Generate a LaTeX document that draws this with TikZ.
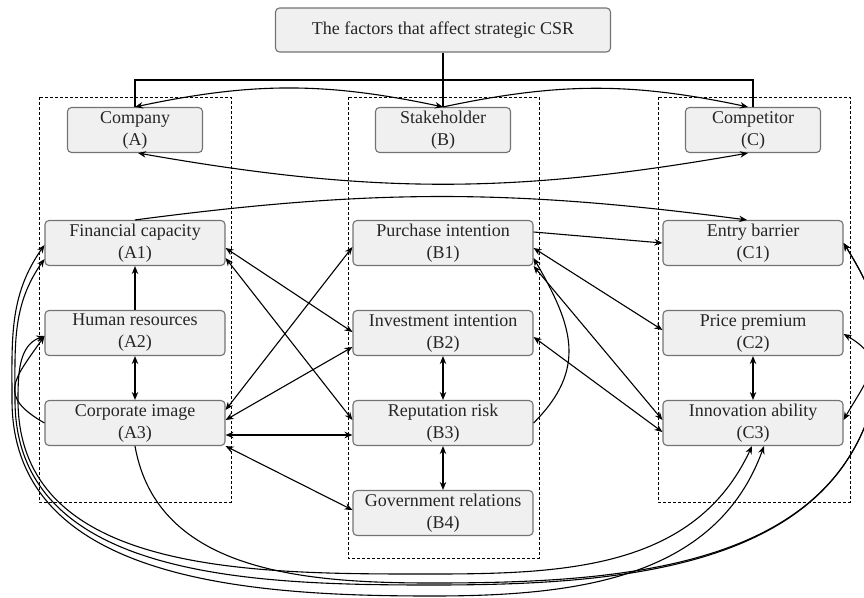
\documentclass[tikz,border=0pt]{standalone}
\usepackage{fontspec}
\setmainfont{Liberation Serif}
\usetikzlibrary{arrows.meta}

\begin{document}
\begin{tikzpicture}[x=1pt, y=1pt, >={Stealth[length=8pt,width=6.5pt]},
        every path/.style={line width=1.1pt},
        factor/.style={draw=black!55, fill=black!6, rounded corners=4pt,
            minimum width=180pt, minimum height=45pt, inner sep=0pt, align=center,
            font=\fontsize{18}{22}\selectfont, text=black!85},
        aspect/.style={factor, minimum width=135pt},
        group/.style={draw, line width=1pt, dash pattern=on 3pt off 2pt}]
    \useasboundingbox (0,0) rectangle (864,-597);

    \draw[group] (39,-97) rectangle (231,-502);
    \draw[group] (348,-97) rectangle (539,-558);
    \draw[group] (658,-97) rectangle (850,-502);

    \node[factor, minimum width=335pt, minimum height=44pt] (top) at (443,-30) {The factors that affect strategic CSR};
    \node[aspect] (A) at (135,-130) {Company\\(A)};
    \node[aspect] (B) at (443,-130) {Stakeholder\\(B)};
    \node[aspect] (C) at (753,-130) {Competitor\\(C)};

    \node[factor] (A1) at (135,-243) {Financial capacity\\(A1)};
    \node[factor] (A2) at (135,-333) {Human resources\\(A2)};
    \node[factor] (A3) at (135,-423) {Corporate image\\(A3)};
    \node[factor] (B1) at (443,-243) {Purchase intention\\(B1)};
    \node[factor] (B2) at (443,-333) {Investment intention\\(B2)};
    \node[factor] (B3) at (443,-423) {Reputation risk\\(B3)};
    \node[factor] (B4) at (443,-513) {Government relations\\(B4)};
    \node[factor] (C1) at (753,-243) {Entry barrier\\(C1)};
    \node[factor] (C2) at (753,-333) {Price premium\\(C2)};
    \node[factor] (C3) at (753,-423) {Innovation ability\\(C3)};

    \coordinate (bus) at (443,-80);
    \draw (top.south) -- (B.north);
    \draw (A.north) |- (bus) -| (C.north);
    \draw[<->] (A.north) to[bend left=12] (B.north);
    \draw[->] (B.north) to[bend left=12] ([xshift=-5pt]C.north);
    \draw[<->] ([xshift=3pt]A.south) to[bend right=10] ([xshift=-5pt]C.south);
    \draw[->] (A1.north) to[bend left=7.5] ([xshift=-6pt]C1.north);

    \draw[->] (A2) -- (A1);
    \draw[<->] (A2) -- (A3);
    \draw[<->] (B2) -- (B3);
    \draw[<->] (B3) -- (B4);
    \draw[<->] (C2) -- (C3);

    \draw[<->] ([yshift=-5pt]A1.east) -- ([yshift=1pt]B2.west);
    \draw[<->] ([yshift=-15pt]A1.east) -- ([yshift=3pt]B3.west);
    \draw[<->] ([yshift=-4pt]B1.west) -- ([yshift=13pt]A3.east);
    \draw[<->] ([yshift=-14pt]B2.west) -- ([yshift=3pt]A3.east);
    \draw[<->] ([yshift=-12pt]A3.east) -- ([yshift=-12pt]B3.west);
    \draw[<->] (A3.south east) -- ([yshift=3pt]B4.west);

    \draw[->] ([yshift=11pt]B1.east) -- (C1.west);
    \draw[<->] ([yshift=-5pt]B1.east) -- ([yshift=3pt]C2.west);
    \draw[<->] (B1.south east) -- ([yshift=3pt]C3.west);
    \draw[<->] ([yshift=-4pt]B2.east) -- ([yshift=-9pt]C3.west);
    \draw[->] (B3.east) to[out=45,in=-60,looseness=1.2] ([yshift=-15pt]B1.east);

    \draw[->] (A3.west) to[out=150,in=235,looseness=1.6] ([yshift=-3pt]A2.west);
    \draw[<->] ([yshift=-2pt]A1.west) to[out=235,in=90] (12,-400)
        to[out=-90,in=180] (432,-596) to[out=0,in=-110] ([xshift=11pt]C3.south);
    \draw[<->] ([yshift=-16pt]A1.west) to[out=235,in=90] (15,-400)
        to[out=-90,in=180] (432,-585) to[out=0,in=-100] (878,-380)
        to[out=80,in=-58] (C1.east);
    \draw[<->] ([yshift=-3pt]A2.west) to[out=200,in=90] (18,-400)
        to[out=-90,in=180] (432,-574) to[out=0,in=-115] ([xshift=-1pt]C3.south);
    \draw[->] (A3.south) to[out=-80,in=180] (432,-583) to[out=0,in=-100] (878,-380)
        to[out=80,in=-58] (C1.east);
    \draw[<->] ([yshift=-1pt]C2.east) to[out=-30,in=60,looseness=1.5] ([yshift=3pt]C3.east);
\end{tikzpicture}
\end{document}
